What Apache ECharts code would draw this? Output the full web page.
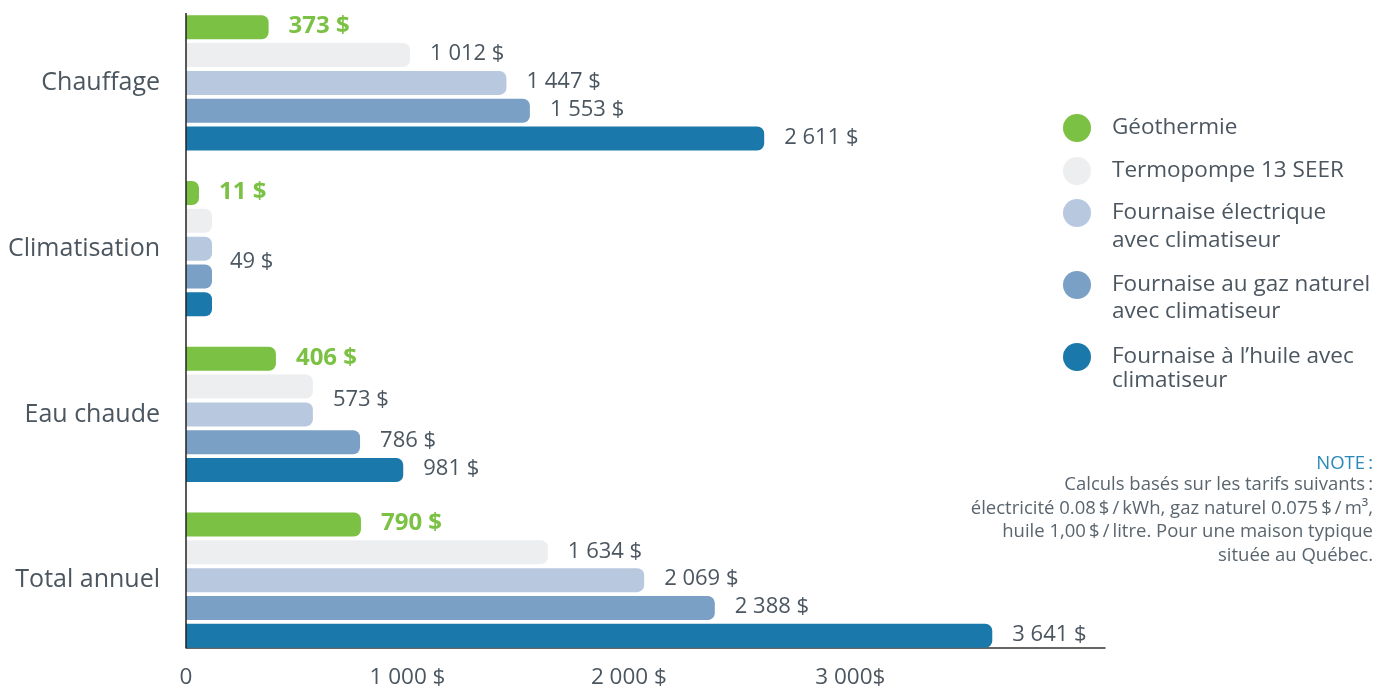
<!DOCTYPE html>
<html>
<head>
<meta charset="utf-8">
<script src="https://cdn.jsdelivr.net/npm/echarts@6/dist/echarts.min.js"></script>
<style>
  html, body { margin: 0; padding: 0; background: #fff; }
  #chart { width: 1391px; height: 687px; }
</style>
</head>
<body>
<div id="chart"></div>
<script>
var categories = ['Chauffage', 'Climatisation', 'Eau chaude', 'Total annuel'];
var seriesNames = [
  'Géothermie',
  'Termopompe 13 SEER',
  'Fournaise électrique\navec climatiseur',
  'Fournaise au gaz naturel\navec climatiseur',
  'Fournaise à l’huile avec\nclimatiseur'
];
var geothermie = [373, 11, 406, 790];
var termopompe = [1012, 49, 573, 1634];
var electrique = [1447, 49, 573, 2069];
var gazNaturel = [1553, 49, 786, 2388];
var huile = [2611, 49, 981, 3641];
var xTickLabels = ['0', '1 000 $', '2 000 $', '3 000$'];

var colors = ['#7bc143', '#edeef0', '#b8c8df', '#7ba0c6', '#1a78aa'];
var FONT = '"Open Sans"';
var TEXT = '#4b5660';

function money(v) {
  return String(v).replace(/\B(?=(\d{3})+(?!\d))/g, ' ') + ' $';
}

// which labels are shown, and the two shared ones nudged between bars
function makeData(values, s) {
  return values.map(function (v, i) {
    var d = { value: v };
    var show = true, offset = [0, -1];
    if (i === 1 && s !== 0 && s !== 2) show = false;
    if (i === 1 && s === 2) offset = [-2, 13];
    if (i === 2 && s === 2) show = false;
    if (i === 2 && s === 1) offset = [0, 13];
    d.label = { show: show, offset: offset };
    return d;
  });
}

var allValues = [geothermie, termopompe, electrique, gazNaturel, huile];

var series = allValues.map(function (vals, s) {
  var green = s === 0;
  return {
    name: seriesNames[s],
    type: 'bar',
    data: makeData(vals, s),
    barWidth: 24,
    barGap: '16%',
    barCategoryGap: '18%',
    barMinHeight: green ? 13 : 26,
    itemStyle: { color: colors[s], borderRadius: [0, 7, 7, 0] },
    label: {
      position: 'right',
      distance: 20,
      fontFamily: FONT,
      fontSize: green ? 24 : 22,
      fontWeight: green ? 'bold' : 'normal',
      color: green ? '#7bc143' : TEXT,
      formatter: function (p) { return money(p.value); }
    },
    emphasis: { disabled: true }
  };
});

// legend: one component per item so the dot sits on the first text line
var iconY = [128, 171, 213, 285, 357];
var lineH = [28, 28, 28, 27, 24];
var legends = seriesNames.map(function (name, s) {
  var twoLines = name.indexOf('\n') >= 0;
  var lh = lineH[s];
  return {
    data: [{ name: name, icon: 'circle' }],
    left: 1063,
    top: twoLines ? iconY[s] - 1.5 * lh : iconY[s] - 14,
    padding: 0,
    itemWidth: 28,
    itemHeight: 28,
    selectedMode: false,
    formatter: function (n) { return n.indexOf('\n') >= 0 ? ' \n' + n : n; },
    textStyle: {
      fontFamily: FONT,
      fontSize: 22.5,
      color: TEXT,
      lineHeight: lh,
      padding: [0, 0, 0, 16]
    }
  };
});

var chart = echarts.init(document.getElementById('chart'));
chart.setOption({
  animation: false,
  color: colors,
  grid: { left: 186, width: 919, top: 0, height: 663, outerBoundsMode: 'none' },
  legend: legends,
  xAxis: {
    type: 'value',
    min: 0,
    max: 4150,
    interval: 1000,
    offset: -15,
    axisLine: { show: true, lineStyle: { color: '#333', width: 1.5 } },
    axisTick: { show: false },
    splitLine: { show: false },
    axisLabel: {
      margin: 18,
      fontFamily: FONT,
      fontSize: 22.5,
      color: TEXT,
      formatter: function (v) { return xTickLabels[v / 1000] || ''; }
    }
  },
  yAxis: {
    type: 'category',
    data: categories,
    inverse: true,
    axisLine: { show: false },
    axisTick: { show: false },
    axisLabel: {
      margin: 26,
      fontFamily: FONT,
      fontSize: 25,
      color: TEXT
    }
  },
  series: series,
  graphic: [
    {
      type: 'line',
      shape: { x1: 186, y1: 13, x2: 186, y2: 648 },
      style: { stroke: '#222', lineWidth: 1.5 },
      z: 10
    },
    {
      type: 'text',
      x: 1373,
      y: 464,
      style: {
        text: 'NOTE\u2009:',
        align: 'right',
        verticalAlign: 'middle',
        fontFamily: FONT,
        fontSize: 18.5,
        fill: '#2a87b9'
      }
    },
    {
      type: 'text',
      x: 1373,
      y: 473,
      style: {
        text: 'Calculs basés sur les tarifs suivants\u2009:\n' +
              'électricité 0.08\u2009$\u2009/\u2009kWh, gaz naturel 0.075\u2009$\u2009/\u2009m³,\n' +
              'huile 1,00\u2009$\u2009/\u2009litre. Pour une maison typique\n' +
              'située au Québec.',
        align: 'right',
        verticalAlign: 'top',
        lineHeight: 23.5,
        fontFamily: FONT,
        fontSize: 18.5,
        fill: '#5a656e'
      }
    }
  ]
});
</script>
</body>
</html>
